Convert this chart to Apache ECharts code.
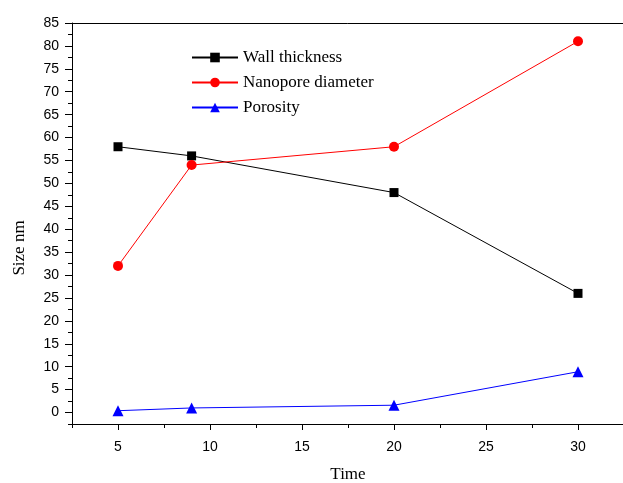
<!DOCTYPE html>
<html>
<head>
<meta charset="utf-8">
<script src="https://cdn.jsdelivr.net/npm/echarts@6/dist/echarts.min.js"></script>
<style>
  html, body { margin: 0; padding: 0; background: #fff; }
  #myChart { width: 623px; height: 483px; }
</style>
</head>
<body>
<div id="myChart"></div>
<script>
let timeValues = [5, 9, 20, 30]
let wallThickness = [58, 56, 48, 26]
let nanoporeDiameter = [32, 54, 58, 81]
let porosity = [0.4, 1.0, 1.6, 8.9]
let seriesNames = ['Wall thickness', 'Nanopore diameter', 'Porosity']

let serifFont = '"Liberation Serif", "Times New Roman", serif'
let sansFont = '"Liberation Sans", Arial, sans-serif'

function pairs(ys) {
    return timeValues.map(function (x, i) {
        return [x, ys[i]]
    })
}

function makeSeries(name, ys, color, symbol, size) {
    return {
        name: name,
        type: 'line',
        xAxisIndex: 0,
        yAxisIndex: 0,
        data: pairs(ys),
        symbol: symbol,
        symbolSize: size,
        showAllSymbol: true,
        lineStyle: { color: color, width: 1 },
        itemStyle: { color: color },
        emphasis: { disabled: true },
        animation: false
    }
}

let xRange = { min: 2.5, max: 32.5 }
let yRange = { min: -2.5, max: 85 }

let option = {
    animation: false,
    grid: {
        left: 72, top: 23, right: -1, bottom: 59,
        outerBoundsMode: 'none',
        containLabel: false,
        show: false
    },
    legend: {
        orient: 'vertical',
        left: 191,
        top: 45,
        padding: 0,
        itemWidth: 46,
        itemHeight: 12,
        itemGap: 0,
        data: seriesNames,
        textStyle: { fontFamily: serifFont, fontSize: 17, color: '#000', lineHeight: 25 }
    },
    xAxis: [
        {
            type: 'value',
            min: xRange.min,
            max: xRange.max,
            minInterval: 5,
            maxInterval: 5,
            position: 'bottom',
            splitLine: { show: false },
            axisLine: { onZero: false, lineStyle: { color: '#000', width: 1 } },
            axisTick: { inside: false, length: 6, lineStyle: { color: '#000' } },
            axisLabel: {
                margin: 16,
                fontFamily: sansFont, fontSize: 14, color: '#000',
                showMinLabel: false, showMaxLabel: false,
                formatter: function (v) { return v % 5 === 0 ? String(v) : '' }
            },
            name: 'Time',
            nameLocation: 'middle',
            nameGap: 42,
            nameTextStyle: { fontFamily: serifFont, fontSize: 17, color: '#000' }
        },
        {
            // minor ticks at half steps
            type: 'value',
            min: xRange.min,
            max: xRange.max,
            interval: 5,
            position: 'bottom',
            splitLine: { show: false },
            axisLine: { show: false, onZero: false },
            axisTick: { inside: false, length: 4, lineStyle: { color: '#000' } },
            axisLabel: { show: false }
        },
        {
            // top frame line
            type: 'value',
            min: xRange.min,
            max: xRange.max,
            position: 'top',
            splitLine: { show: false },
            axisLine: { onZero: false, lineStyle: { color: '#000', width: 1 } },
            axisTick: { show: false },
            axisLabel: { show: false }
        }
    ],
    yAxis: [
        {
            type: 'value',
            min: yRange.min,
            max: yRange.max,
            minInterval: 5,
            maxInterval: 5,
            position: 'left',
            splitLine: { show: false },
            axisLine: { onZero: false, lineStyle: { color: '#000', width: 1 } },
            axisTick: { inside: false, length: 7, lineStyle: { color: '#000' } },
            axisLabel: {
                margin: 13,
                fontFamily: sansFont, fontSize: 14, color: '#000',
                showMinLabel: false,
                formatter: function (v) { return v % 5 === 0 ? String(v) : '' }
            }
        },
        {
            type: 'value',
            min: yRange.min,
            max: yRange.max,
            interval: 5,
            position: 'left',
            splitLine: { show: false },
            axisLine: { show: false, onZero: false },
            axisTick: { inside: false, length: 4, lineStyle: { color: '#000' } },
            axisLabel: { show: false }
        }
    ],
    graphic: [
        {
            type: 'text',
            x: 20,
            y: 248,
            rotation: Math.PI / 2,
            style: {
                text: 'Size nm',
                font: '17px ' + serifFont,
                fill: '#000',
                textAlign: 'center',
                textVerticalAlign: 'middle'
            }
        }
    ],
    series: [
        makeSeries(seriesNames[0], wallThickness, '#000000', 'rect', 9),
        makeSeries(seriesNames[1], nanoporeDiameter, '#ff0000', 'circle', 10),
        makeSeries(seriesNames[2], porosity, '#0000ff', 'triangle', 11)
    ]
}

let myChart = echarts.init(document.getElementById('myChart'), null, { renderer: 'canvas' })
myChart.setOption(option, true)
</script>
</body>
</html>
